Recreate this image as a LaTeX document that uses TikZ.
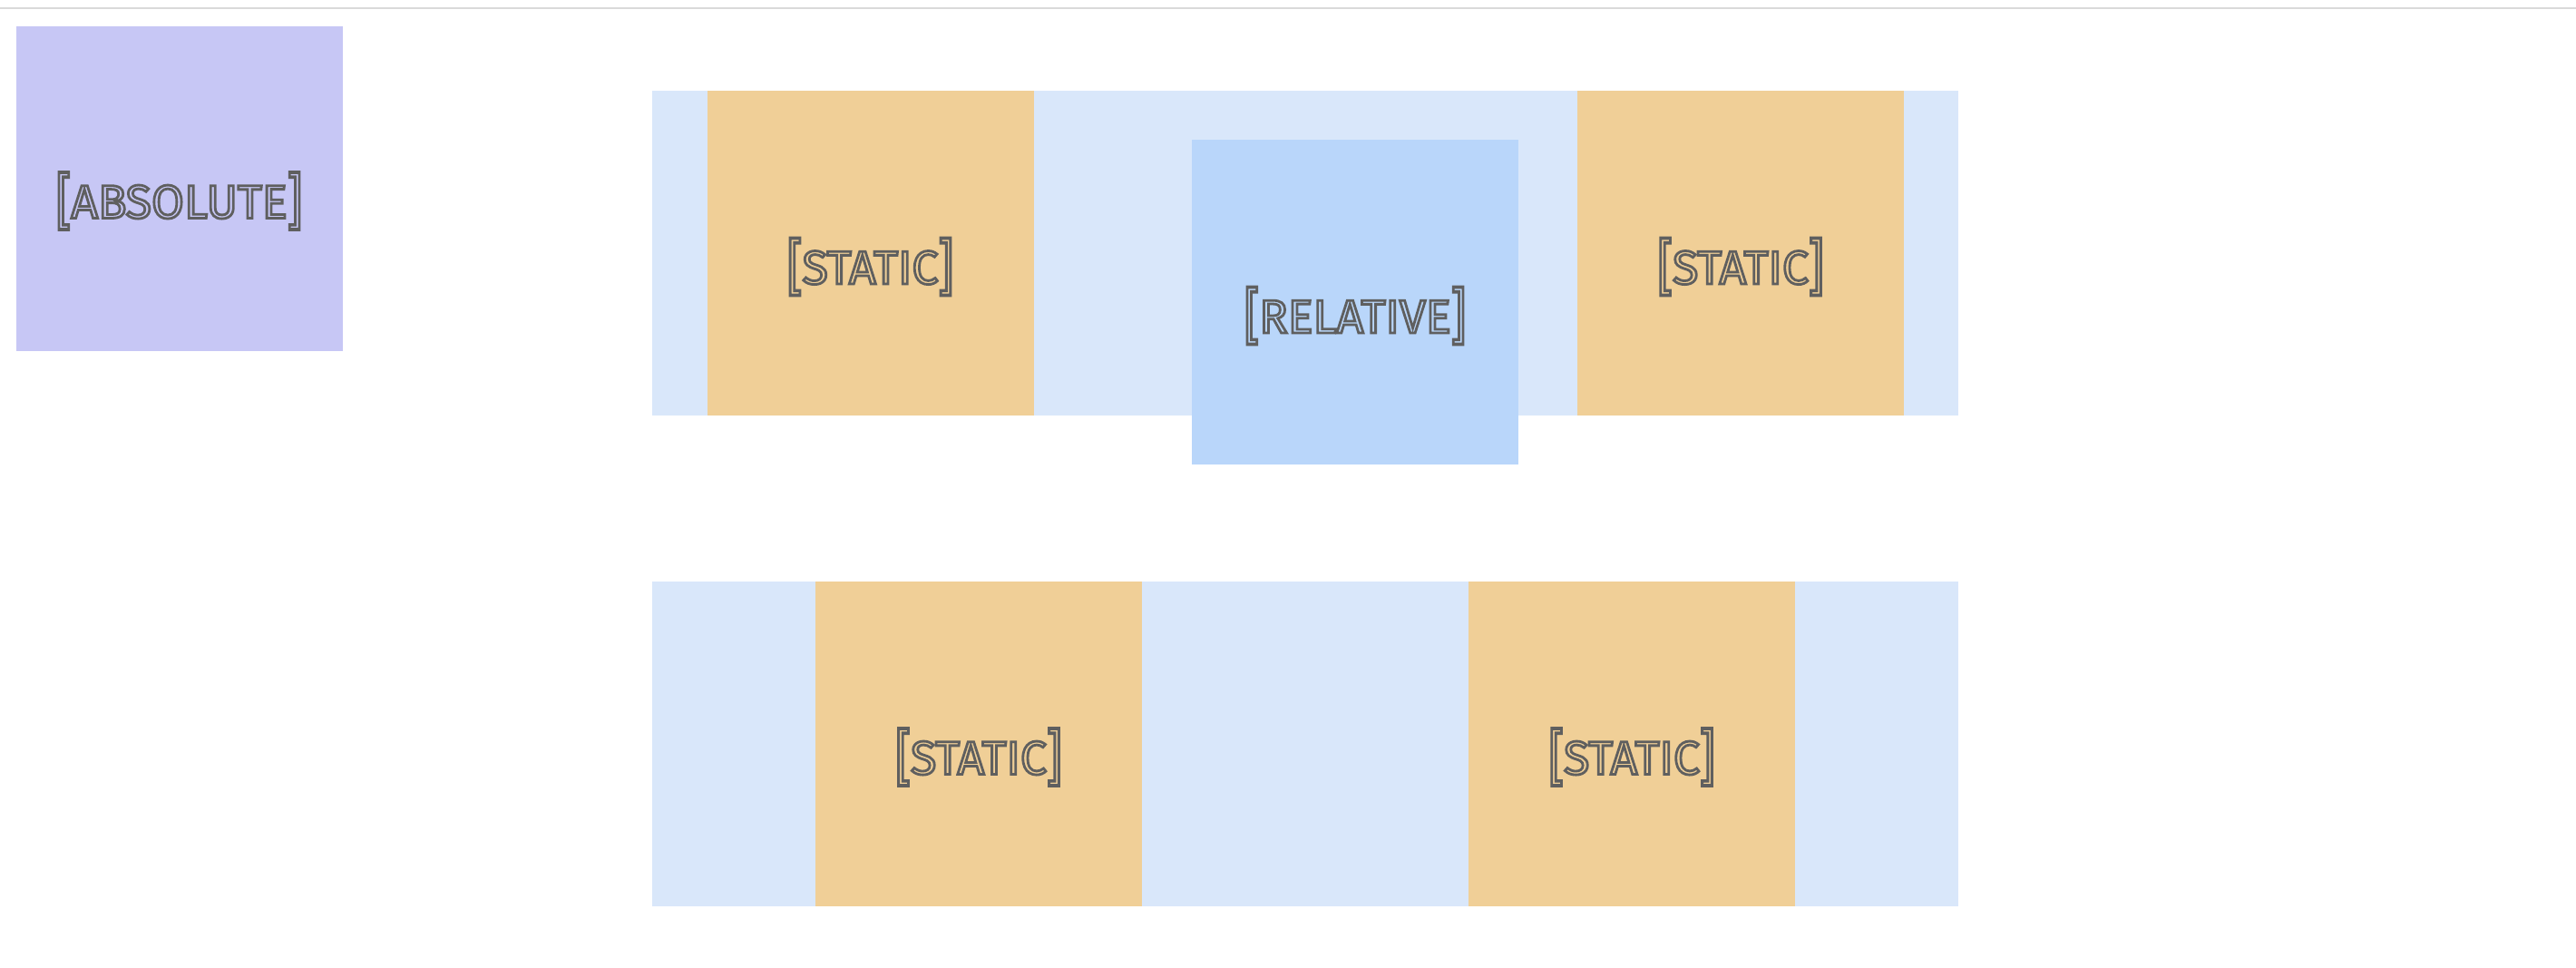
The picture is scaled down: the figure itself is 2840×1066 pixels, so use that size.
\documentclass[tikz,border=0pt]{standalone}
\usepackage{fontspec}
\setmainfont{Fira Sans}
\definecolor{abscol}{HTML}{C7C7F5}
\definecolor{contcol}{HTML}{D9E7FA}
\definecolor{statcol}{HTML}{F0CF97}
\definecolor{relcol}{HTML}{B9D6FA}
\definecolor{rulecol}{HTML}{DADADA}
\definecolor{txtcol}{HTML}{5F5F5F}
\newcommand{\lbrk}{\raisebox{-0.09em}{\scalebox{1}[1.3]{[}}}
\newcommand{\rbrk}{\raisebox{-0.09em}{\scalebox{1}[1.3]{]}}}
\newcommand{\outlined}[1]{\special{pdf:literal direct 1 Tr 1.4 w}\lbrk#1\rbrk\special{pdf:literal direct 0 Tr}}
\begin{document}
\begin{tikzpicture}[x=0.5pt,y=-0.5pt,
  boxshape/.style={rectangle, inner sep=0pt, outer sep=0pt, draw=none, minimum width=180pt, minimum height=179pt},
  absbox/.style={boxshape, fill=abscol},
  statbox/.style={boxshape, fill=statcol},
  relbox/.style={boxshape, fill=relcol},
  contbox/.style={rectangle, inner sep=0pt, outer sep=0pt, draw=none, fill=contcol, minimum width=720pt, minimum height=179pt},
  lbl/.style={inner sep=0pt, text=txtcol, font=\fontsize{26}{30}\selectfont}]
\useasboundingbox (0,0) rectangle (2840,1066);
\fill[white] (0,0) rectangle (2840,1066);
\coordinate (ruleL) at (0,9);
\coordinate (ruleR) at (2840,9);
\draw[rulecol, line width=1.2pt] (ruleL) -- (ruleR);
% absolute
\node[absbox] (abs) at (197.5,207.5) {};
\node[lbl] (absT) at ([yshift=-7pt]abs.center) {\outlined{ABSOLUTE}};
% top container
\node[contbox] (cont1) at (1439,279) {};
\node[statbox] (s1) at (959.5,279) {};
\node[lbl] (s1T) at ([yshift=-7.5pt]s1.center) {\outlined{STATIC}};
\node[statbox] (s2) at (1919,279) {};
\node[lbl] (s2T) at ([yshift=-7.5pt]s2.center) {\outlined{STATIC}};
\node[relbox] (rel) at (1494,333) {};
\node[lbl] (relT) at ([yshift=-7.5pt]rel.center) {\outlined{RELATIVE}};
% bottom container
\node[contbox] (cont2) at (1439,819.5) {};
\node[statbox] (s3) at (1079,819.5) {};
\node[lbl] (s3T) at ([yshift=-7.5pt]s3.center) {\outlined{STATIC}};
\node[statbox] (s4) at (1799,819.5) {};
\node[lbl] (s4T) at ([yshift=-7.5pt]s4.center) {\outlined{STATIC}};
\end{tikzpicture}
\end{document}
